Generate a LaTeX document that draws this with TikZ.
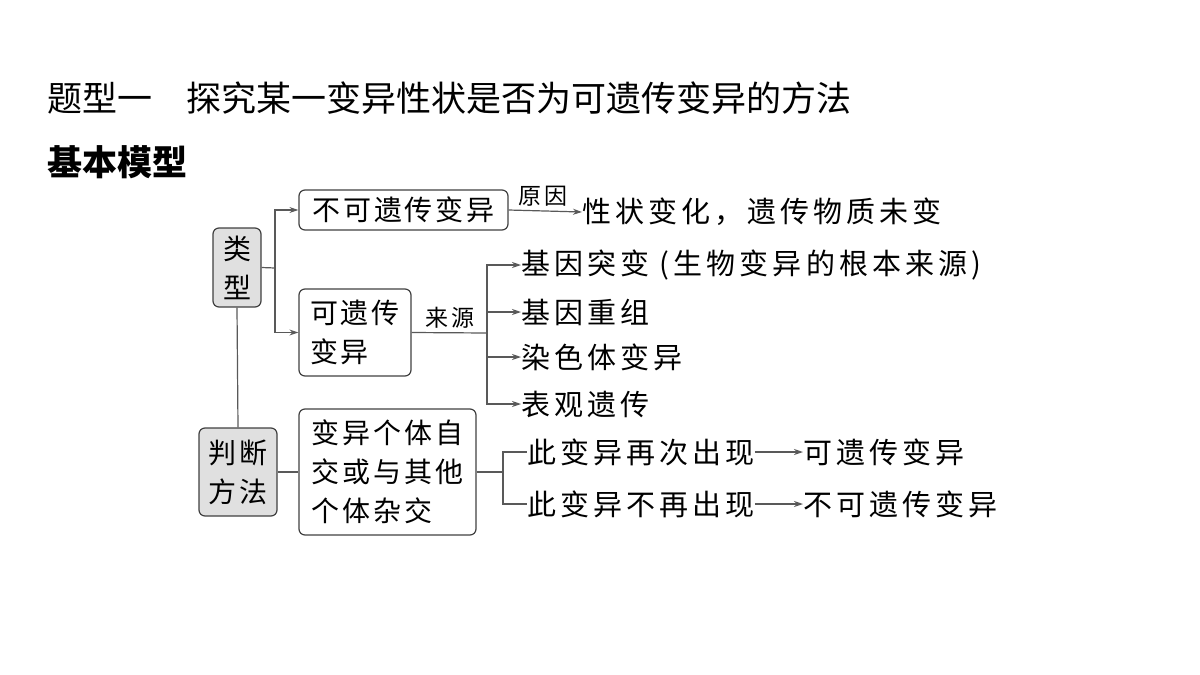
\documentclass[tikz,border=0pt]{standalone}
\usepackage{fontspec}
\setmainfont{Noto Sans CJK SC}
\newfontfamily\cjk[LetterSpace=14]{Noto Sans CJK SC}
\newfontfamily\cjkb[LetterSpace=10]{Noto Sans CJK SC}
\newfontfamily\cjkt{Noto Sans CJK SC}
\usetikzlibrary{arrows.meta}
\begin{document}
\begin{tikzpicture}[x=1pt,y=-1pt,
  box/.style={draw=black!75,line width=1.2pt,rounded corners=6pt,inner sep=0pt,font=\cjkb\fontsize{28}{39}\selectfont,align=left},
  gbox/.style={box,fill=black!12},
  txt/.style={inner sep=0pt,anchor=west,font=\cjk\fontsize{29}{30}\selectfont},
  lab/.style={inner sep=0pt,font=\cjkb\fontsize{23}{24}\selectfont},
  ln/.style={draw=black!65,line width=1.2pt},
  ar/.style={ln,-{Stealth[length=9pt,width=6pt]}}]
\useasboundingbox (0,0) rectangle (1200,675);
\node[anchor=west,inner sep=0pt,font=\cjkt\fontsize{35}{38}\selectfont] (title) at (47,98) {题型一\hspace{34pt}探究某一变异性状是否为可遗传变异的方法};
\node[anchor=west,inner sep=0pt,font=\cjkt\bfseries\fontsize{35}{38}\selectfont] (sub) at (47,162) {基本模型};
\node[gbox,minimum width=48pt,minimum height=79pt,align=center] (lx) at (237,267.5) {类\\型};
\node[gbox,minimum width=78pt,minimum height=88pt,align=center] (pd) at (238,472) {判断\\方法};
\node[box,minimum width=209pt,minimum height=40pt,align=center] (bk) at (403.5,210) {不可遗传变异};
\node[box,minimum width=112pt,minimum height=87pt,align=left] (kc) at (355,332.5) {可遗传\\变异};
\node[box,minimum width=177pt,minimum height=126pt,align=left] (fx) at (387.5,472) {变异个体自\\交或与其他\\个体杂交};
\node[txt] (xz) at (582,212) {性状变化，遗传物质未变};
\node[lab] (yy) at (543,196) {原因};
\node[lab] (ly) at (450,318) {来源};
\node[txt] (t1) at (521,265) {基因突变 (生物变异的根本来源)};
\node[txt] (t2) at (521,312) {基因重组};
\node[txt] (t3) at (521,357) {染色体变异};
\node[txt] (t4) at (521,404) {表观遗传};
\node[txt] (c1) at (527,452) {此变异再次出现};
\node[txt] (c2) at (527,504) {此变异不再出现};
\node[txt] (r1) at (803,452) {可遗传变异};
\node[txt] (r2) at (803,504) {不可遗传变异};
\coordinate (j1) at (275,268);
\coordinate (j2) at (487,333);
\coordinate (j3) at (503,472);
\path[ln] (lx.east) -- (j1);
\draw[ar] (j1) |- (bk.west);
\draw[ar] (j1) |- (kc.west);
\path[ln] (lx.south) -- (pd.north);
\draw[ar] (bk.east) -- (xz.west);
\path[ln] (kc.east) -- (j2);
\draw[ar] (j2) |- (t1.west);
\draw[ar] (j2) |- (t2.west);
\draw[ar] (j2) |- (t3.west);
\draw[ar] (j2) |- (t4.west);
\path[ln] (pd.east) -- (fx.west);
\path[ln] (fx.east) -- (j3);
\path[ln] (j3) |- (c1.west);
\path[ln] (j3) |- (c2.west);
\draw[ar] (c1.east) -- (r1.west);
\draw[ar] (c2.east) -- (r2.west);
\end{tikzpicture}
\end{document}
